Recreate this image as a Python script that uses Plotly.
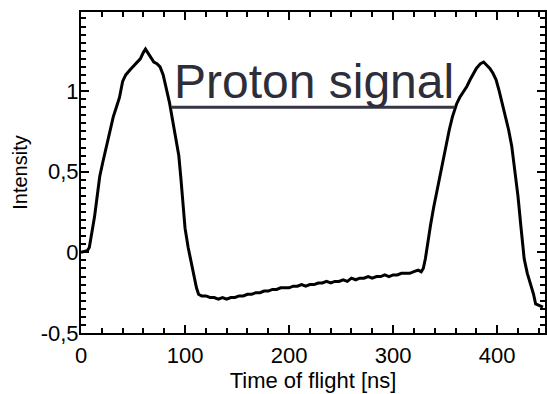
import plotly.graph_objects as go

# Time of flight [ns]
t_ns = [0, 6, 8, 10, 13, 15, 18, 21, 24, 28, 31, 34, 37, 40, 43, 47, 50, 54, 57, 60, 62,
        64, 67, 70, 73, 76, 79, 82, 85, 88, 91, 94, 96, 98, 100, 103, 106, 109, 111, 113,
        116, 120, 124, 128, 132, 136, 140, 144, 148, 152, 156, 160, 164, 168, 172, 176,
        180, 184, 188, 192, 196, 200, 204, 208, 212, 216, 220, 224, 228, 232, 236, 240,
        244, 248, 252, 256, 260, 264, 268, 272, 276, 280, 284, 288, 292, 296, 300, 304,
        308, 312, 316, 320, 324, 327,
        329, 331, 333, 336, 339, 342, 345, 348, 351, 354, 357, 361, 364, 368, 371, 374,
        377, 380, 384, 387, 390, 393, 396, 399, 402, 405, 408, 411, 414, 417, 420, 423,
        426, 429, 432, 435, 437, 440, 444]
# Intensity
intensity = [0.0, 0.01, 0.03, 0.10, 0.22, 0.32, 0.47, 0.56, 0.64, 0.75, 0.84, 0.90, 0.96,
             1.06, 1.10, 1.13, 1.15, 1.18, 1.20, 1.24, 1.26,
             1.24, 1.21, 1.18, 1.17, 1.15, 1.10, 1.02, 0.93, 0.82, 0.71, 0.60, 0.46, 0.28,
             0.15, 0.03, -0.07, -0.16, -0.22, -0.26,
             -0.27, -0.27, -0.28, -0.28, -0.29, -0.28, -0.29, -0.28, -0.28, -0.27, -0.27,
             -0.26, -0.26, -0.25, -0.25, -0.24, -0.24, -0.23, -0.23, -0.22, -0.22, -0.22,
             -0.21, -0.21, -0.20, -0.21, -0.20, -0.20, -0.19, -0.19, -0.18, -0.19,
             -0.18, -0.18, -0.17, -0.18, -0.16, -0.17, -0.16, -0.16, -0.15, -0.16, -0.15,
             -0.15, -0.14, -0.15, -0.14, -0.14, -0.13, -0.13, -0.13, -0.12, -0.11, -0.12,
             -0.10, -0.04, 0.05, 0.17, 0.28, 0.38, 0.48, 0.57, 0.67, 0.76, 0.84, 0.92, 0.96,
             1.00, 1.03, 1.07, 1.11, 1.14, 1.17, 1.18, 1.16, 1.14, 1.11, 1.07, 1.00, 0.92,
             0.84, 0.76, 0.66, 0.52, 0.35, 0.15, -0.04, -0.13, -0.19, -0.26, -0.32, -0.33,
             -0.34]

x_tickvals = [0, 100, 200, 300, 400]
x_ticktext = ["0", "100", "200", "300", "400"]
y_tickvals = [-0.5, 0, 0.5, 1]
y_ticktext = ["-0,5", "0", "0,5", "1"]

FONT = "Liberation Sans, Arial, sans-serif"

fig = go.Figure()
fig.add_trace(go.Scatter(x=t_ns, y=intensity, mode="lines",
                         line=dict(color="black", width=3), showlegend=False))

axis_common = dict(
    showgrid=False, zeroline=False, showline=True, linecolor="black", linewidth=2,
    mirror="ticks", ticks="inside", tickcolor="black", tickwidth=1.5, ticklen=8,
    tickfont=dict(family=FONT, size=22, color="black"),
    tickmode="array",
)

fig.update_xaxes(
    **axis_common, range=[0, 446], tickvals=x_tickvals, ticktext=x_ticktext,
    ticklabelstandoff=2,
    minor=dict(tickmode="linear", tick0=0, dtick=20, ticks="inside", ticklen=5,
               tickcolor="black", tickwidth=1.5),
    title=dict(text="Time of flight [ns]", font=dict(family=FONT, size=22, color="black"),
               standoff=0),
)
fig.update_yaxes(
    **axis_common, range=[-0.5, 1.49], tickvals=y_tickvals, ticktext=y_ticktext,
    ticklabelstandoff=-4,
    minor=dict(tickmode="linear", tick0=0, dtick=0.05, ticks="inside", ticklen=5,
               tickcolor="black", tickwidth=1.5),
    title=dict(text="Intensity", font=dict(family=FONT, size=20, color="black"),
               standoff=8),
)

fig.add_annotation(x=224, y=0.885, xref="x", yref="y", text="Proton signal",
                   showarrow=False, yanchor="bottom", xanchor="center",
                   font=dict(family=FONT, size=48, color="#2e2e3a"))
fig.add_shape(type="line", x0=87, x1=359, y0=0.90, y1=0.90, xref="x", yref="y",
              line=dict(color="#353543", width=3))

fig.update_layout(
    width=547, height=394,
    margin=dict(l=81, r=0, t=12, b=61),
    paper_bgcolor="white", plot_bgcolor="white",
)

fig.write_html("out.html")
